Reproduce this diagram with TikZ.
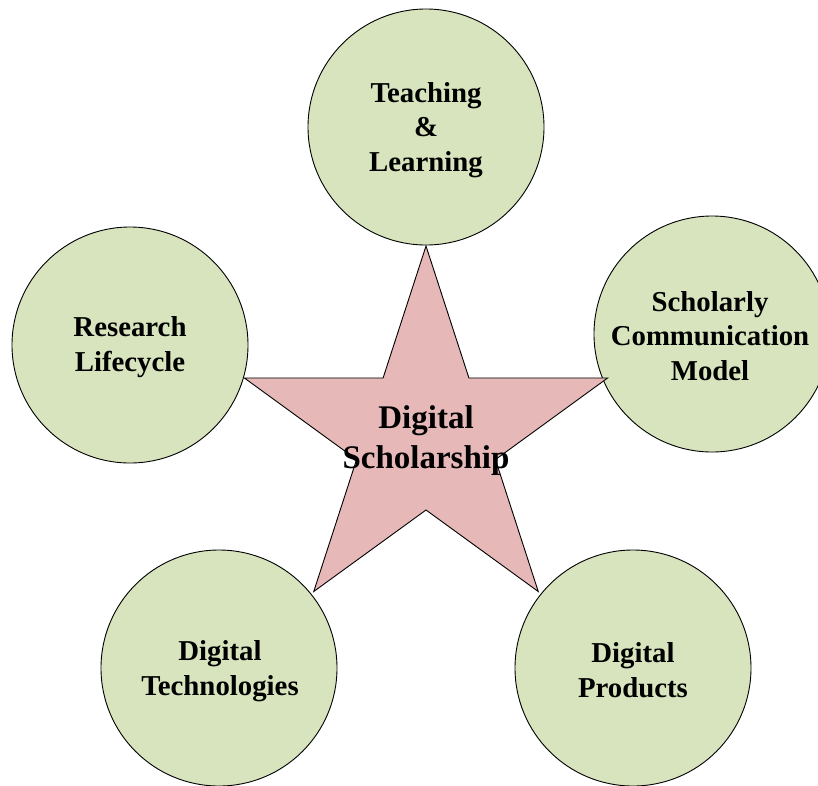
\documentclass[tikz,border=0pt]{standalone}
\usepackage{fontspec}
\setmainfont{Liberation Serif}
\usetikzlibrary{calc}
\definecolor{circfill}{HTML}{D7E4BD}
\definecolor{starfill}{HTML}{E6B9B8}
\begin{document}
\begin{tikzpicture}[x=1pt,y=-1pt,
  topic/.style={draw=black, line width=0.9pt, fill=circfill, circle, minimum size=236pt, inner sep=0pt,
    align=center, font=\fontsize{28.8}{34.5}\selectfont\bfseries},
  topictext/.style={align=center, inner sep=0pt, font=\fontsize{28.8}{34.5}\selectfont\bfseries},
  starshape/.style={draw=black, line width=0.9pt, fill=starfill, line join=miter},
  centretext/.style={align=center, inner sep=0pt, font=\fontsize{33}{40}\selectfont\bfseries}]
\useasboundingbox (0,0) rectangle (818,785);
% circles
\node[topic] (teach) at (426,127) {};
\node[topic] (research) at (130,345) {};
\node[topic] (scholcomm) at (712,334) {};
\node[topic] (tech) at (219,668) {};
\node[topic] (prod) at (633,668) {};
\node[topictext] (teacht) at ($(teach)+(0,3)$) {Teaching\\\&\\Learning};
\node[topictext] (researcht) at ($(research)+(0,2)$) {Research\\Lifecycle};
\node[topictext] (scholcommt) at ($(scholcomm)+(-2,2)$) {Scholarly\\Communication\\Model};
\node[topictext] (techt) at ($(tech)+(1,3)$) {Digital\\Technologies};
\node[topictext] (prodt) at ($(prod)+(0,2)$) {Digital\\Products};
% star
\coordinate (c) at (426,437);
\foreach \i/\a in {1/-90,2/-18,3/54,4/126,5/198}{
  \coordinate (o\i) at ($(c)+(\a:191)$);
  \coordinate (n\i) at ($(c)+(\a+36:73)$);
}
\draw[starshape] (o1) -- (n1) -- (o2) -- (n2) -- (o3) -- (n3) -- (o4) -- (n4) -- (o5) -- (n5) -- cycle;
\node[centretext] (ds) at (426,441) {Digital\\Scholarship};
\end{tikzpicture}
\end{document}
